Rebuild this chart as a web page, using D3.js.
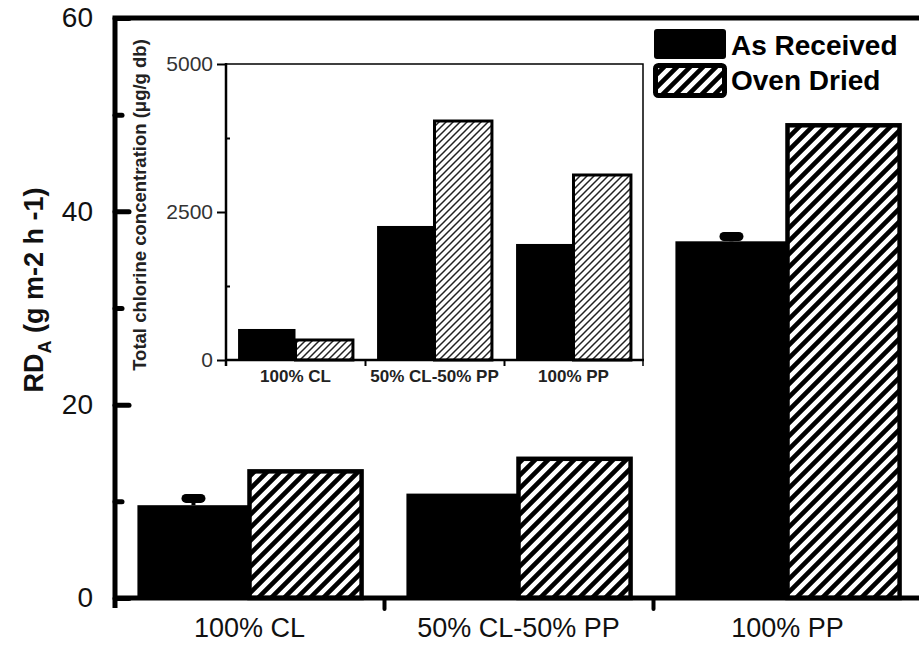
<!DOCTYPE html>
<html>
<head>
<meta charset="utf-8">
<style>
  body { margin: 0; background: #fff; }
  text { font-family: "Liberation Sans", Arial, sans-serif; }
</style>
</head>
<body>
<script src="https://cdn.jsdelivr.net/npm/d3@7"></script>
<script>
// main chart data (RD_A, g m-2 h-1)
var categories = ["100% CL", "50% CL-50% PP", "100% PP"];
var series = ["As Received", "Oven Dried"];
var asReceived = [9.6, 10.8, 36.9];
var ovenDried = [13.1, 14.4, 48.9];
// top of error bar caps (only visible ones)
var asReceivedErr = [10.3, null, 37.4];

// inset data (total chlorine, ug/g db)
var insetCategories = ["100% CL", "50% CL-50% PP", "100% PP"];
var insetAsReceived = [524, 2264, 1960];
var insetOvenDried = [338, 4037, 3125];

var yTicks = [0, 20, 40, 60];
var yMinor = [10, 30, 50];
var insetTicks = [0, 2500, 5000];
var insetMinor = [1250, 3750];

var W = 919, H = 645;
var svg = d3.select("body").append("svg")
    .attr("width", W)
    .attr("height", H);

var defs = svg.append("defs");
// coarse hatch for main bars
var hatch = defs.append("pattern")
    .attr("id", "hatch")
    .attr("patternUnits", "userSpaceOnUse")
    .attr("width", 13).attr("height", 13);
hatch.append("rect").attr("width", 13).attr("height", 13).attr("fill", "#fff");
hatch.append("path")
    .attr("d", "M-3,3 L3,-3 M0,13 L13,0 M10,16 L16,10")
    .attr("stroke", "#000").attr("stroke-width", 4.6);
// fine hatch for inset bars
var fine = defs.append("pattern")
    .attr("id", "fine")
    .attr("patternUnits", "userSpaceOnUse")
    .attr("width", 7).attr("height", 7);
fine.append("rect").attr("width", 7).attr("height", 7).attr("fill", "#fff");
fine.append("path")
    .attr("d", "M-2,2 L2,-2 M0,7 L7,0 M5,9 L9,5")
    .attr("stroke", "#222").attr("stroke-width", 1.5);

// ---------- main chart ----------
var mLeft = 115, mRight = 922, mTop = 18, mBottom = 598;

var x0 = d3.scaleBand().domain(categories).range([mLeft, mRight]).padding(0);
var x1 = d3.scaleBand().domain(series).range([0, x0.bandwidth()]).paddingInner(0).paddingOuter(0.2);
var y = d3.scaleLinear().domain([0, 60]).range([mBottom, mTop]);

var rows = categories.map(function (c, i) {
    return { cat: c, vals: [asReceived[i], ovenDried[i]], err: asReceivedErr[i] };
});

var groups = svg.selectAll("g.grp").data(rows).enter().append("g")
    .attr("class", "grp")
    .attr("transform", function (d) { return "translate(" + x0(d.cat) + ",0)"; });

// error bars (As Received)
groups.filter(function (d) { return d.err != null; }).each(function (d) {
    var g = d3.select(this);
    var cx = x1(series[0]) + x1.bandwidth() / 2;
    g.append("line")
        .attr("x1", cx).attr("x2", cx)
        .attr("y1", y(d.vals[0])).attr("y2", y(d.err))
        .attr("stroke", "#000").attr("stroke-width", 4);
    g.append("rect")
        .attr("x", cx - 12).attr("y", y(d.err) - 4.5)
        .attr("width", 24).attr("height", 9)
        .attr("rx", 4.5)
        .attr("fill", "#000");
});

groups.append("rect")
    .attr("x", x1(series[0]))
    .attr("y", function (d) { return y(d.vals[0]); })
    .attr("width", x1.bandwidth())
    .attr("height", function (d) { return mBottom - y(d.vals[0]); })
    .attr("fill", "#000");

groups.append("rect")
    .attr("x", x1(series[1]))
    .attr("y", function (d) { return y(d.vals[1]); })
    .attr("width", x1.bandwidth())
    .attr("height", function (d) { return mBottom - y(d.vals[1]); })
    .attr("fill", "url(#hatch)")
    .attr("stroke", "#000")
    .attr("stroke-width", 4.5);

// frame
svg.append("path")
    .attr("d", "M" + mLeft + "," + (mBottom + 10) + " L" + mLeft + "," + mTop + " L" + (mRight + 10) + "," + mTop)
    .attr("fill", "none").attr("stroke", "#000").attr("stroke-width", 5);
svg.append("line")
    .attr("x1", mLeft - 2).attr("x2", mRight + 10)
    .attr("y1", mBottom).attr("y2", mBottom)
    .attr("stroke", "#000").attr("stroke-width", 5);

// y axis
var yAxis = svg.append("g").attr("transform", "translate(" + mLeft + ",0)")
    .call(d3.axisLeft(y).tickValues(yTicks).tickSizeInner(-14).tickSizeOuter(0).tickPadding(22));
yAxis.select(".domain").remove();
yAxis.selectAll(".tick line").attr("stroke-width", 5).attr("stroke-linecap", "round");
yAxis.selectAll(".tick text")
    .attr("font-size", 28).attr("fill", "#111")
    .attr("font-family", "Liberation Sans, Arial, sans-serif");

var yMinorAxis = svg.append("g").attr("transform", "translate(" + mLeft + ",0)")
    .call(d3.axisLeft(y).tickValues(yMinor).tickSizeInner(-7).tickSizeOuter(0).tickFormat(""));
yMinorAxis.select(".domain").remove();
yMinorAxis.selectAll(".tick line").attr("stroke-width", 5).attr("stroke-linecap", "round");

// x axis labels
var xAxis = svg.append("g").attr("transform", "translate(0," + mBottom + ")")
    .call(d3.axisBottom(x0).tickSize(0).tickPadding(20));
xAxis.select(".domain").remove();
xAxis.selectAll(".tick text")
    .attr("font-size", 27).attr("fill", "#111")
    .attr("font-family", "Liberation Sans, Arial, sans-serif");

// boundary ticks between categories
var xb = d3.scaleLinear().domain([0, categories.length]).range([mLeft, mRight]);
var xbAxis = svg.append("g").attr("transform", "translate(0," + mBottom + ")")
    .call(d3.axisBottom(xb).tickValues([1, 2]).tickSizeInner(11).tickSizeOuter(0).tickFormat(""));
xbAxis.select(".domain").remove();
xbAxis.selectAll(".tick line").attr("stroke-width", 4).attr("stroke-linecap", "round");

// y label
var yl = svg.append("text")
    .attr("transform", "translate(43," + 290 + ") rotate(-90)")
    .attr("text-anchor", "middle")
    .attr("font-size", 27).attr("font-weight", "bold").attr("fill", "#111");
yl.append("tspan").text("RD");
yl.append("tspan").attr("font-size", 18).attr("dy", 8).text("A");
yl.append("tspan").attr("dy", -8).text(" (g m-2 h -1)");

// legend
var legend = svg.append("g").attr("transform", "translate(654,29)");
series.forEach(function (s, i) {
    var g = legend.append("g").attr("transform", "translate(0," + (i * 35) + ")");
    g.append("rect")
        .attr("x", i ? 1.5 : 0).attr("y", i ? 1.5 : 0)
        .attr("width", i ? 69 : 72).attr("height", 30)
        .attr("rx", 3)
        .attr("fill", i ? "url(#hatch)" : "#000")
        .attr("stroke", i ? "#000" : "none")
        .attr("stroke-width", i ? 5 : 0);
    g.append("text")
        .attr("x", 77).attr("y", 26)
        .attr("font-size", 28).attr("font-weight", "bold").attr("fill", "#000")
        .text(s);
});

// ---------- inset ----------
var iL = 226, iR = 643, iT = 64, iB = 360;
var ix0 = d3.scaleBand().domain(insetCategories).range([iL, iR]).padding(0);
var ix1 = d3.scaleBand().domain(series).range([0, ix0.bandwidth()]).paddingInner(0).paddingOuter(0.21);
var iy = d3.scaleLinear().domain([0, 5000]).range([iB, iT]);

var irows = insetCategories.map(function (c, i) {
    return { cat: c, vals: [insetAsReceived[i], insetOvenDried[i]] };
});

var ig = svg.selectAll("g.igrp").data(irows).enter().append("g")
    .attr("class", "igrp")
    .attr("transform", function (d) { return "translate(" + ix0(d.cat) + ",0)"; });
ig.append("rect")
    .attr("x", ix1(series[0]))
    .attr("y", function (d) { return iy(d.vals[0]); })
    .attr("width", ix1.bandwidth())
    .attr("height", function (d) { return iB - iy(d.vals[0]); })
    .attr("fill", "#000");
ig.append("rect")
    .attr("x", ix1(series[1]))
    .attr("y", function (d) { return iy(d.vals[1]); })
    .attr("width", ix1.bandwidth())
    .attr("height", function (d) { return iB - iy(d.vals[1]); })
    .attr("fill", "url(#fine)")
    .attr("stroke", "#000")
    .attr("stroke-width", 3);

// inset frame
svg.append("path")
    .attr("d", "M" + iL + "," + iT + " L" + iR + "," + iT + " L" + iR + "," + (iB + 6))
    .attr("fill", "none").attr("stroke", "#000").attr("stroke-width", 1.5);
svg.append("line")
    .attr("x1", iL).attr("x2", iL).attr("y1", iT - 1).attr("y2", iB + 6)
    .attr("stroke", "#000").attr("stroke-width", 2.5);
svg.append("line")
    .attr("x1", iL).attr("x2", iR + 1).attr("y1", iB).attr("y2", iB)
    .attr("stroke", "#000").attr("stroke-width", 2.5);

var iyAxis = svg.append("g").attr("transform", "translate(" + iL + ",0)")
    .call(d3.axisLeft(iy).tickValues(insetTicks).tickFormat(d3.format("d"))
        .tickSizeInner(9).tickSizeOuter(0).tickPadding(4));
iyAxis.select(".domain").remove();
iyAxis.selectAll(".tick line").attr("stroke-width", 2);
iyAxis.selectAll(".tick text")
    .attr("font-size", 21).attr("fill", "#333")
    .attr("font-family", "Liberation Sans, Arial, sans-serif");

var iyMinor = svg.append("g").attr("transform", "translate(" + iL + ",0)")
    .call(d3.axisLeft(iy).tickValues(insetMinor).tickSizeInner(-4).tickSizeOuter(0).tickFormat(""));
iyMinor.select(".domain").remove();
iyMinor.selectAll(".tick line").attr("stroke-width", 2);

var ixAxis = svg.append("g").attr("transform", "translate(0," + iB + ")")
    .call(d3.axisBottom(ix0).tickSize(0).tickPadding(10));
ixAxis.select(".domain").remove();
ixAxis.selectAll(".tick text")
    .attr("font-size", 17).attr("font-weight", "bold").attr("fill", "#222")
    .attr("font-family", "Liberation Sans, Arial, sans-serif");

var ixb = d3.scaleLinear().domain([0, insetCategories.length]).range([iL, iR]);
var ixbAxis = svg.append("g").attr("transform", "translate(0," + iB + ")")
    .call(d3.axisBottom(ixb).tickValues([1, 2]).tickSizeInner(6).tickSizeOuter(0).tickFormat(""));
ixbAxis.select(".domain").remove();
ixbAxis.selectAll(".tick line").attr("stroke-width", 2);

svg.append("text")
    .attr("transform", "translate(146," + 205 + ") rotate(-90)")
    .attr("text-anchor", "middle")
    .attr("font-size", 18.5).attr("font-weight", "bold").attr("fill", "#222")
    .text("Total chlorine concentration (\u03bcg/g db)");
</script>
</body>
</html>
